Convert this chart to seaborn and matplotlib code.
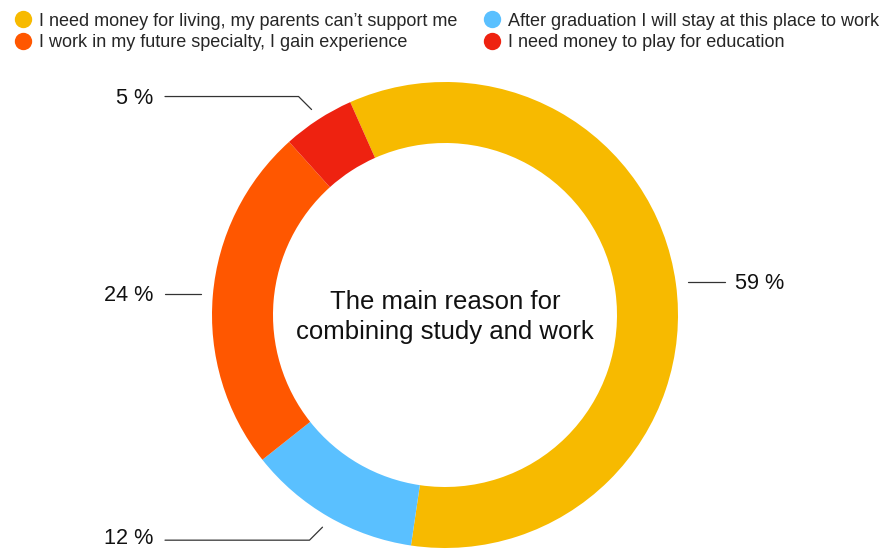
import numpy as np
import matplotlib.pyplot as plt
import seaborn as sns
from matplotlib.lines import Line2D

sns.set_theme(style="white")
plt.rcParams['font.family'] = ['Liberation Sans', 'DejaVu Sans']

# data (clockwise from the top-left)
reasons = [
    "I need money for living, my parents can’t support me",
    "After graduation I will stay at this place to work",
    "I work in my future specialty, I gain experience",
    "I need money to play for education",
]
shares = [59, 12, 24, 5]
colors = ["#F7BA00", "#5AC0FF", "#FF5700", "#EE2210"]
title = "The main reason for\ncombining study and work"

W, H = 882, 549
cx, cy = 445, H - 315
R, ring = 233, 61

fig = plt.figure(figsize=(W / 100, H / 100), dpi=100)
ax = fig.add_axes([0, 0, 1, 1])

wedges, _ = ax.pie(shares, colors=colors, startangle=114, counterclock=False,
                   center=(cx, cy), radius=R, frame=True,
                   wedgeprops=dict(width=ring, edgecolor='none'))
ax.set_xlim(0, W)
ax.set_ylim(0, H)
ax.set_aspect('equal')
ax.axis('off')

ax.text(cx, cy - 2, title, ha='center', va='center', fontsize=18.5,
        linespacing=1.3, color='#111111')

# percentage labels with leader lines
for w, v in zip(wedges, shares):
    mid = np.deg2rad((w.theta1 + w.theta2) / 2)
    dx, dy = np.cos(mid), np.sin(mid)
    x0, y0 = cx + (R + 12) * dx, cy + (R + 12) * dy
    pts = [(x0, y0)]
    if abs(dy) > 0.5:
        x0, y0 = x0 + 13 * np.sign(dx), y0 + 13 * np.sign(dy)
        pts.append((x0, y0))
    if dx > 0:
        xe, xt, ha = 725, 735, 'left'
    else:
        xe, xt, ha = 165, 153, 'right'
    pts.append((xe, y0))
    xs, ys = zip(*pts)
    ax.plot(xs, ys, color='#333333', lw=0.9)
    ty = y0 + 1.5 if dy < -0.5 else y0 - 1.5
    ax.text(xt, ty, f"{v} %", ha=ha, va='center', fontsize=15.6, color='#111111')

# legend: column-first fill -> yellow, orange | blue, red
order = [0, 2, 1, 3]
handles = [Line2D([], [], marker='o', linestyle='', markersize=12.5,
                  markerfacecolor=colors[i], markeredgecolor='none') for i in order]
fig.legend(handles, [reasons[i] for i in order], loc='upper left',
           bbox_to_anchor=(0.0, 1.0), ncol=2, frameon=False, fontsize=13,
           handletextpad=0.25, columnspacing=1.35, labelspacing=0.25,
           borderaxespad=0.3, handlelength=1.2)

fig.savefig("out.png", dpi=100)
